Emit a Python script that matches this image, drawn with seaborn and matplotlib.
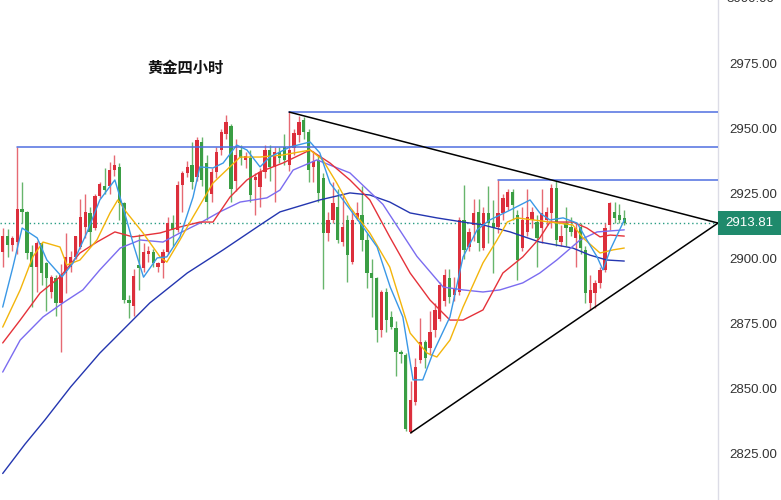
import matplotlib
matplotlib.use("Agg")
import matplotlib.pyplot as plt
import matplotlib.transforms as mtransforms
from matplotlib.patches import Rectangle
from matplotlib.ticker import FuncFormatter
import numpy as np
import pandas as pd
import seaborn as sns

# ---------------------------------------------------------
# DATA
# ---------------------------------------------------------
opens = [2902.7, 2908.8, 2905.4, 2906.5, 2919.2, 2918.0, 2902.7, 2896.9, 2906.0, 2898.5,
         2887.3, 2892.7, 2883.0, 2894.6, 2896.9, 2900.8, 2904.6, 2912.3, 2917.7, 2912.0,
         2924.2, 2928.0, 2928.0, 2934.2, 2935.5, 2921.5, 2884.2, 2882.0, 2897.5, 2896.5,
         2902.0, 2902.7, 2896.9, 2898.5, 2902.7, 2913.8, 2911.2, 2928.5, 2933.0, 2936.0,
         2931.7, 2945.0, 2937.0, 2925.0, 2933.5, 2942.0, 2948.0, 2951.0, 2930.0, 2942.0,
         2938.0, 2939.0, 2930.5, 2927.7, 2933.5, 2942.0, 2935.4, 2941.0, 2943.0, 2936.0,
         2942.7, 2947.7, 2953.5, 2948.8, 2935.4, 2938.0, 2931.0, 2910.0, 2915.0, 2920.0,
         2906.5, 2915.0, 2899.0, 2915.5, 2917.0, 2907.3, 2894.6, 2892.7, 2872.7, 2887.3,
         2877.7, 2873.5, 2864.2, 2863.0, 2833.5, 2845.0, 2861.0, 2868.0, 2865.8, 2872.7,
         2877.0, 2884.0, 2892.7, 2886.0, 2887.3, 2915.0, 2904.6, 2913.0, 2918.0, 2904.2,
         2917.7, 2914.0, 2912.3, 2917.7, 2920.0, 2925.8, 2917.0, 2904.2, 2910.4, 2915.0,
         2914.2, 2912.0, 2915.0, 2917.7, 2927.3, 2906.5, 2913.8, 2912.3, 2908.0, 2912.3,
         2903.5, 2883.0, 2887.0, 2890.8, 2895.8, 2913.0, 2918.0, 2917.0, 2915.8]
highs = [2911.9, 2911.5, 2909.0, 2943.1, 2929.7, 2918.5, 2905.4, 2907.0, 2906.5, 2899.0,
         2894.0, 2894.0, 2898.0, 2910.0, 2903.0, 2909.0, 2923.0, 2925.0, 2920.0, 2925.0,
         2929.5, 2935.0, 2937.3, 2940.0, 2937.0, 2922.0, 2886.0, 2896.0, 2909.7, 2906.2,
         2905.0, 2904.0, 2899.0, 2904.0, 2916.0, 2917.0, 2930.0, 2934.0, 2937.5, 2945.0,
         2947.0, 2947.0, 2940.0, 2935.0, 2943.0, 2950.0, 2955.4, 2952.0, 2946.0, 2944.0,
         2941.0, 2942.0, 2933.0, 2935.0, 2944.0, 2944.0, 2943.0, 2943.0, 2948.0, 2956.5,
         2950.0, 2955.0, 2954.5, 2950.0, 2941.5, 2940.0, 2933.0, 2918.0, 2929.6, 2927.0,
         2925.0, 2917.0, 2919.0, 2922.0, 2928.0, 2910.0, 2900.0, 2893.0, 2888.0, 2889.0,
         2880.0, 2876.0, 2865.0, 2864.0, 2853.0, 2862.0, 2877.3, 2869.0, 2880.0, 2883.0,
         2891.0, 2896.0, 2896.0, 2893.0, 2916.0, 2928.5, 2912.0, 2923.0, 2923.0, 2920.0,
         2928.0, 2922.7, 2930.4, 2925.0, 2927.0, 2927.0, 2919.0, 2920.0, 2927.0, 2920.0,
         2917.0, 2927.0, 2920.0, 2929.0, 2930.0, 2913.0, 2920.0, 2916.0, 2914.0, 2914.0,
         2905.0, 2894.0, 2892.0, 2897.0, 2914.0, 2922.0, 2922.0, 2921.0, 2919.0]
lows = [2896.9, 2900.8, 2903.0, 2902.0, 2913.8, 2900.0, 2881.5, 2887.3, 2890.0, 2880.0,
        2885.0, 2878.0, 2864.3, 2887.0, 2895.0, 2900.0, 2904.0, 2908.0, 2905.0, 2911.0,
        2923.5, 2925.0, 2925.0, 2932.0, 2915.0, 2883.0, 2877.3, 2878.0, 2888.0, 2895.0,
        2899.0, 2897.0, 2895.0, 2892.7, 2902.0, 2905.0, 2910.5, 2918.0, 2931.5, 2927.0,
        2930.0, 2928.0, 2915.0, 2922.0, 2931.0, 2940.0, 2946.0, 2922.0, 2926.0, 2936.0,
        2935.0, 2922.0, 2917.0, 2920.0, 2931.0, 2930.0, 2922.0, 2937.0, 2936.0, 2934.0,
        2940.0, 2945.0, 2946.0, 2929.6, 2929.6, 2922.0, 2888.5, 2907.0, 2914.0, 2906.0,
        2905.0, 2891.0, 2898.0, 2915.0, 2903.0, 2889.0, 2877.7, 2868.0, 2870.0, 2872.0,
        2873.0, 2855.0, 2860.0, 2834.0, 2833.1, 2844.0, 2860.0, 2858.0, 2863.0, 2870.0,
        2876.0, 2882.0, 2883.0, 2884.0, 2886.0, 2900.0, 2903.0, 2907.0, 2903.0, 2903.5,
        2906.0, 2894.6, 2910.0, 2915.0, 2919.0, 2915.0, 2892.0, 2903.0, 2909.0, 2912.0,
        2897.0, 2906.0, 2913.0, 2912.0, 2905.0, 2905.0, 2905.0, 2909.0, 2897.0, 2902.0,
        2883.0, 2880.4, 2881.0, 2889.0, 2895.0, 2911.0, 2913.8, 2914.0, 2913.0]
closes = [2908.8, 2905.4, 2908.0, 2919.2, 2918.0, 2902.3, 2896.9, 2906.2, 2894.6, 2892.7,
          2893.0, 2883.0, 2893.8, 2900.8, 2900.8, 2908.8, 2916.2, 2918.0, 2910.4, 2924.2,
          2928.8, 2926.5, 2934.2, 2936.0, 2921.5, 2884.2, 2883.0, 2893.5, 2896.5, 2902.7,
          2903.0, 2898.5, 2898.5, 2902.7, 2913.8, 2911.2, 2928.5, 2933.0, 2935.4, 2929.7,
          2945.8, 2930.4, 2922.0, 2933.5, 2941.3, 2949.0, 2952.8, 2927.0, 2940.0, 2939.0,
          2939.5, 2924.6, 2931.5, 2933.5, 2942.0, 2935.4, 2941.0, 2939.0, 2938.0, 2942.0,
          2948.5, 2952.7, 2948.8, 2934.2, 2937.5, 2925.4, 2910.0, 2915.0, 2921.5, 2907.3,
          2912.3, 2901.5, 2915.0, 2917.5, 2907.3, 2894.6, 2892.7, 2872.7, 2887.3, 2876.5,
          2873.8, 2864.2, 2863.5, 2834.5, 2845.8, 2858.5, 2868.0, 2862.0, 2872.0, 2880.4,
          2890.0, 2894.0, 2885.4, 2889.0, 2915.0, 2903.5, 2910.4, 2917.7, 2906.0, 2917.7,
          2913.8, 2912.0, 2917.7, 2923.5, 2925.8, 2920.8, 2899.6, 2915.0, 2916.0, 2918.0,
          2908.0, 2917.7, 2918.0, 2927.3, 2907.3, 2909.0, 2912.0, 2910.4, 2912.0, 2904.2,
          2887.0, 2888.0, 2890.8, 2895.8, 2912.0, 2921.5, 2915.8, 2915.0, 2913.81]

# moving averages, sampled along the chart (candle index, price)
ma5_idx = [0, 2.1, 4, 7.1, 9.1, 12.2, 14.5, 17.4, 20, 23.1, 25, 27, 29, 31.8, 33.8, 36.5,
           39.2, 40.6, 43.3, 45.4, 48.2, 50.3, 53, 55, 59.2, 63.3, 65.3, 67.4, 70.1, 74.2,
           77.1, 79.8, 82.4, 84.5, 86.5, 88.6, 92.1, 94.8, 97.7, 100.3, 104.5, 108.6, 110.6,
           112.7, 115.4, 118.3, 120.3, 122.4, 123.6, 125.1, 128]
ma5_val = [2881.5, 2896.9, 2911.9, 2908.1, 2899.6, 2893.1, 2898.5, 2910.4, 2922.7, 2930.4,
           2918.5, 2905.0, 2893.0, 2900.4, 2900.8, 2908.5, 2923.8, 2935.4, 2935.0, 2936.9,
           2943.8, 2941.9, 2935.4, 2939.2, 2943.1, 2945.0, 2940.8, 2929.2, 2922.7, 2912.3,
           2904.6, 2889.2, 2877.7, 2853.5, 2853.5, 2863.8, 2877.7, 2900.8, 2911.2, 2915.0,
           2918.8, 2922.7, 2917.7, 2915.0, 2915.8, 2913.8, 2907.3, 2900.8, 2895.8, 2903.5,
           2915.0]
ma10_idx = [0, 3.6, 6.2, 8.3, 11.8, 13.2, 15.9, 19.4, 22.1, 23.7, 25.6, 28.9, 32.4, 33.8,
            36.5, 39.2, 42.1, 43.3, 48.9, 53, 57.7, 63.3, 65.9, 68.8, 71.5, 75.6, 79.7, 83.9,
            87.4, 89.4, 92.1, 94.8, 98.9, 101.8, 103.9, 105.9, 112.7, 117.4, 119.5, 123,
            125.7, 128]
ma10_val = [2873.8, 2888.1, 2900.8, 2906.5, 2904.6, 2897.7, 2899.6, 2907.3, 2917.7, 2922.7,
            2917.7, 2910.0, 2900.8, 2898.8, 2907.3, 2916.2, 2925.4, 2929.2, 2939.2, 2939.2,
            2940.0, 2941.9, 2938.1, 2929.2, 2920.0, 2910.0, 2896.9, 2871.5, 2863.8, 2862.3,
            2868.8, 2881.5, 2898.5, 2907.3, 2914.2, 2915.8, 2914.2, 2913.1, 2908.1, 2902.3,
            2903.5, 2904.2]
ma20_idx = [0, 3.6, 7.7, 11.8, 15.9, 19.4, 23.1, 26.8, 32.4, 36.5, 40.6, 43.3, 46.8, 50.3,
            53, 57.7, 63.3, 67.4, 71.5, 75.6, 79.7, 83.9, 88, 92.1, 94.8, 98.9, 103, 107.1,
            110.6, 112.7, 117.4, 120.3, 123, 125.1, 128]
ma20_val = [2867.7, 2876.5, 2886.9, 2893.1, 2902.3, 2906.5, 2910.4, 2908.5, 2910.0, 2912.3,
            2914.2, 2914.2, 2923.8, 2930.4, 2933.5, 2936.9, 2941.9, 2936.9, 2930.4, 2922.7,
            2908.5, 2894.6, 2884.2, 2876.5, 2876.5, 2880.4, 2894.6, 2900.8, 2908.1, 2914.2,
            2914.2, 2911.9, 2908.5, 2909.2, 2908.8]
ma30_idx = [0, 3.6, 8.3, 12.4, 16.5, 20, 24.2, 28.3, 33, 36.5, 40.6, 44.7, 48.9, 54.4, 57.1,
            59.8, 64.7, 71.5, 78.3, 85.3, 90.7, 94.8, 98.9, 102.4, 107.1, 110.6, 114.1,
            118.9, 122.4, 128]
ma30_val = [2856.5, 2868.8, 2877.7, 2883.1, 2888.1, 2895.8, 2904.2, 2907.3, 2906.5, 2910.0,
            2913.8, 2918.1, 2921.9, 2923.5, 2926.5, 2934.2, 2938.1, 2933.1, 2921.0, 2901.0,
            2889.2, 2888.1, 2887.3, 2888.1, 2890.8, 2894.6, 2899.6, 2907.3, 2910.4, 2911.2]
ma60_idx = [0, 4.6, 8.7, 14, 20, 26.2, 30.3, 38, 45.4, 53.6, 57.1, 65.3, 71.5, 75.6, 79.7,
            83.9, 89.4, 94.8, 98.9, 104.5, 110.6, 117.4, 120.9, 124.4, 128]
ma60_val = [2817.5, 2828.8, 2838.1, 2850.8, 2863.8, 2875.4, 2883.1, 2894.6, 2903.5, 2913.8,
            2918.1, 2922.7, 2925.4, 2924.6, 2921.9, 2917.7, 2915.8, 2914.2, 2913.1, 2910.4,
            2906.5, 2904.2, 2901.5, 2899.6, 2899.2]

# drawn levels: start candle and price
level_start = [3, 59, 102]
level_price = [2943.1, 2956.5, 2930.4]

# triangle: from a swing high / low to the apex at the price scale
apex_idx = 147.3
upper_start = (59, 2956.5)
lower_start = (84, 2833.1)

last_price = closes[-1]
price_ticks = [2825, 2850, 2875, 2900, 2925, 2950, 2975]

# ---------------------------------------------------------
# PLOT
# ---------------------------------------------------------
sns.set_theme(style="white")
plt.rcParams["font.family"] = ["Liberation Sans", "DejaVu Sans"]

fig = plt.figure(figsize=(7.81, 5.0), dpi=100)
ax = fig.add_axes([0, 0, 718 / 781, 1])

x = np.arange(len(closes))
o = np.array(opens)
c = np.array(closes)
h = np.array(highs)
l = np.array(lows)
up = c >= o

red, green = "#dc2f3c", "#3a9e44"
wick_red, wick_green = "#e66a73", "#67b56c"

ax.vlines(x[up], l[up], h[up], color=wick_red, linewidth=1.0, zorder=2)
ax.vlines(x[~up], l[~up], h[~up], color=wick_green, linewidth=1.0, zorder=2)
body = np.maximum(np.abs(c - o), 0.4)
ax.bar(x[up], body[up], bottom=np.minimum(o, c)[up], width=0.68, color=red, linewidth=0, zorder=2)
ax.bar(x[~up], body[~up], bottom=np.minimum(o, c)[~up], width=0.68, color=green, linewidth=0, zorder=2)

# moving averages
ma_frames = []
for name, idx, val in [("MA60", ma60_idx, ma60_val), ("MA30", ma30_idx, ma30_val),
                       ("MA20", ma20_idx, ma20_val), ("MA10", ma10_idx, ma10_val),
                       ("MA5", ma5_idx, ma5_val)]:
    ma_frames.append(pd.DataFrame({"idx": idx, "value": val, "ma": name}))
ma_df = pd.concat(ma_frames, ignore_index=True)
ma_colors = {"MA5": "#3a98e6", "MA10": "#f3b50c", "MA20": "#e5323a",
             "MA30": "#7b6cf0", "MA60": "#2436b0"}
sns.lineplot(data=ma_df, x="idx", y="value", hue="ma", palette=ma_colors,
             linewidth=1.0, legend=False, errorbar=None, ax=ax, zorder=3)

# horizontal levels
for s, p in zip(level_start, level_price):
    ax.plot([s, apex_idx], [p, p], color="#4f6fe0", linewidth=1.1, zorder=4)

# triangle
ax.plot([upper_start[0], apex_idx], [upper_start[1], last_price], color="black", linewidth=1.1, zorder=4)
ax.plot([lower_start[0], apex_idx], [lower_start[1], last_price], color="black", linewidth=1.1, zorder=4)

# last price line
ax.axhline(last_price, color="#2a9d84", linestyle=(0, (1, 2)), linewidth=1.0, zorder=1)

ax.set_xlim(-0.556, apex_idx)
ax.set_ylim(2807.3, 2999.6)
ax.set_xlabel("")
ax.set_ylabel("")
ax.set_xticks([])

ax.yaxis.tick_right()
ax.set_yticks(price_ticks)
ax.yaxis.set_major_formatter(FuncFormatter(lambda v, pos: f"{v:.2f}"))
ax.tick_params(axis="y", length=0, pad=8, labelsize=9.5, labelcolor="#333333")
for side in ["top", "left", "bottom"]:
    ax.spines[side].set_visible(False)
ax.spines["right"].set_color("#dcdce6")
ax.spines["right"].set_linewidth(1.0)

# the 3000 label, cut by the top edge
tr = mtransforms.blended_transform_factory(ax.transAxes, ax.transData)
ax.text(1.0, 3000, "3000.00", transform=tr, ha="left", va="center", fontsize=9.5,
        color="#333333", clip_on=False).set_x(1.0 + 8 / 718)

# last price tag
tag_tr = mtransforms.blended_transform_factory(fig.transFigure, ax.transData)
fig.patches.append(Rectangle((718 / 781, last_price - 4.6), 63 / 781, 9.2, transform=tag_tr,
                             facecolor="#1f8a6c", edgecolor="none", zorder=5))
fig.text(749.5 / 781, last_price, f"{last_price:.2f}", transform=tag_tr, ha="center", va="center",
         fontsize=9.5, color="white", zorder=6)

ax.text(0.2047, 0.864, "黄金四小时", transform=ax.transAxes, ha="left", va="center",
        fontsize=11, fontweight="bold", color="#111111",
        family=["Noto Sans CJK SC", "DejaVu Sans"])

fig.savefig("out.png", dpi=100)
